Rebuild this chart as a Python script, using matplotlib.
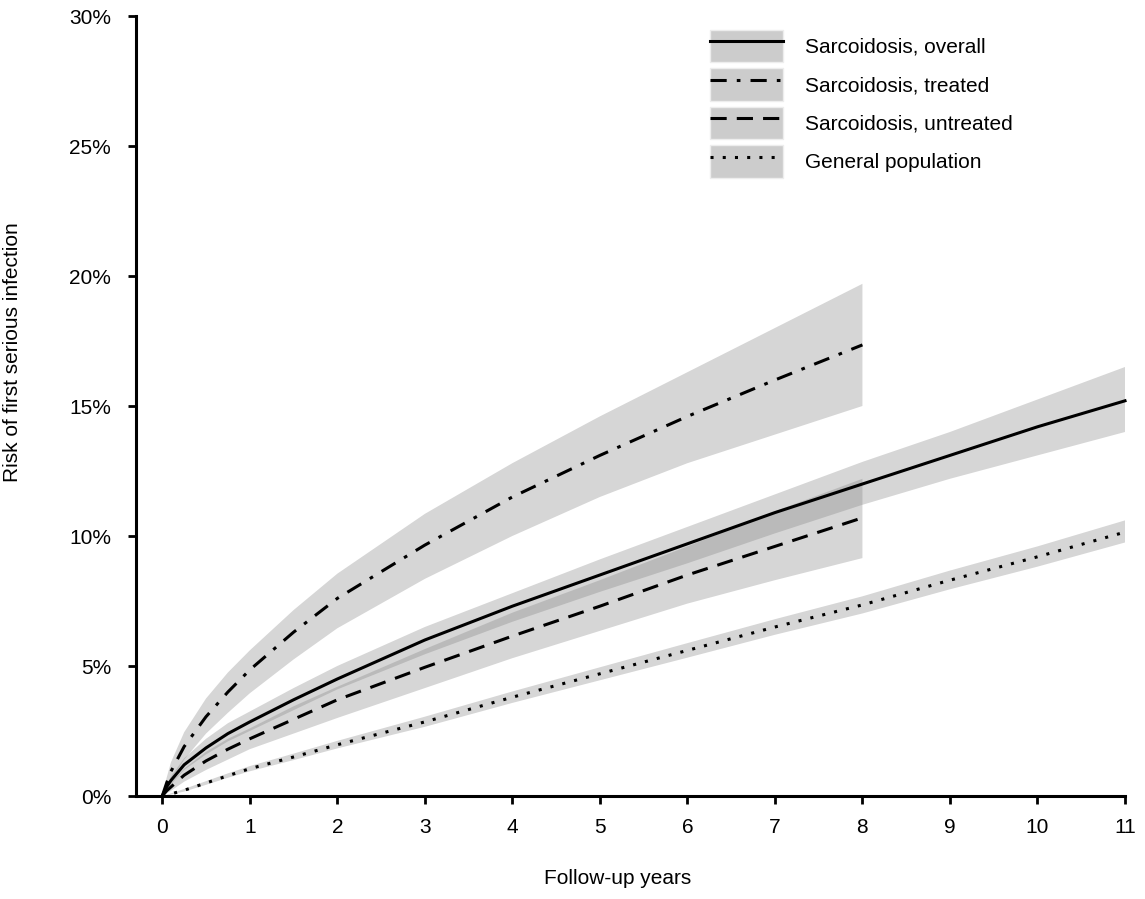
import matplotlib
matplotlib.use("Agg")
import matplotlib.pyplot as plt
from matplotlib.patches import Patch
from matplotlib.lines import Line2D

plt.rcParams['font.family'] = ['Liberation Sans', 'DejaVu Sans']

# follow-up years
x_full = [0, 0.05, 0.1, 0.25, 0.5, 0.75, 1, 1.5, 2, 3, 4, 5, 6, 7, 8, 9, 10, 11]
x_sub = [0, 0.05, 0.1, 0.25, 0.5, 0.75, 1, 1.5, 2, 3, 4, 5, 6, 7, 8]

# cumulative risk (%)
overall = [0, 0.35, 0.6, 1.2, 1.85, 2.4, 2.85, 3.7, 4.5, 6.0, 7.3, 8.5, 9.7, 10.9, 12.0, 13.1, 14.2, 15.2]
overall_hi = [0, 0.45, 0.75, 1.45, 2.2, 2.8, 3.25, 4.15, 5.0, 6.5, 7.8, 9.1, 10.35, 11.6, 12.85, 14.0, 15.25, 16.5]
overall_lo = [0, 0.25, 0.45, 1.0, 1.6, 2.1, 2.5, 3.3, 4.1, 5.45, 6.7, 7.85, 8.95, 10.1, 11.2, 12.2, 13.1, 14.0]

treated = [0, 0.5, 0.95, 1.9, 3.05, 4.0, 4.85, 6.3, 7.6, 9.65, 11.5, 13.1, 14.6, 16.0, 17.35]
treated_hi = [0, 0.7, 1.3, 2.45, 3.75, 4.75, 5.6, 7.15, 8.55, 10.85, 12.8, 14.6, 16.3, 18.0, 19.7]
treated_lo = [0, 0.3, 0.6, 1.4, 2.4, 3.2, 3.95, 5.25, 6.45, 8.35, 10.0, 11.5, 12.8, 13.9, 15.0]

untreated = [0, 0.2, 0.35, 0.8, 1.35, 1.8, 2.2, 2.95, 3.7, 4.95, 6.15, 7.3, 8.5, 9.6, 10.7]
untreated_hi = [0, 0.3, 0.5, 1.05, 1.7, 2.2, 2.6, 3.45, 4.2, 5.65, 7.05, 8.3, 9.6, 10.95, 12.2]
untreated_lo = [0, 0.1, 0.2, 0.55, 1.0, 1.4, 1.8, 2.4, 3.0, 4.15, 5.3, 6.35, 7.4, 8.3, 9.15]

general = [0, 0.04, 0.08, 0.22, 0.5, 0.78, 1.05, 1.5, 1.97, 2.85, 3.8, 4.7, 5.6, 6.5, 7.35, 8.3, 9.2, 10.15]
general_hi = [0, 0.05, 0.1, 0.27, 0.57, 0.87, 1.15, 1.63, 2.12, 3.05, 4.02, 4.95, 5.88, 6.8, 7.68, 8.67, 9.6, 10.6]
general_lo = [0, 0.03, 0.06, 0.17, 0.43, 0.7, 0.95, 1.38, 1.83, 2.66, 3.58, 4.45, 5.32, 6.2, 7.02, 7.95, 8.82, 9.75]

labels = ['Sarcoidosis, overall', 'Sarcoidosis, treated',
          'Sarcoidosis, untreated', 'General population']
x_ticks = list(range(0, 12))
y_ticks = [0, 5, 10, 15, 20, 25, 30]
y_ticklabels = ['0%', '5%', '10%', '15%', '20%', '25%', '30%']

W, H = 1145, 899
fig = plt.figure(figsize=(W / 100, H / 100), dpi=100)
ax = fig.add_axes([136 / W, 1 - 796 / H, (1125 - 136) / W, (796 - 16) / H])

band = dict(facecolor='0.5', alpha=0.32, linewidth=0)
ax.fill_between(x_full, overall_lo, overall_hi, **band)
ax.fill_between(x_sub, treated_lo, treated_hi, **band)
ax.fill_between(x_sub, untreated_lo, untreated_hi, **band)
ax.fill_between(x_full, general_lo, general_hi, **band)

lw = 2.2
styles = ['-', (0, (5.3, 3.3, 1.2, 3.3)), (0, (5.3, 3.3)), (0, (1, 3))]
ax.plot(x_full, overall, color='black', lw=lw, ls=styles[0], clip_on=False)
ax.plot(x_sub, treated, color='black', lw=lw, ls=styles[1], dash_capstyle='butt')
ax.plot(x_sub, untreated, color='black', lw=lw, ls=styles[2], dash_capstyle='butt')
ax.plot(x_full, general, color='black', lw=lw, ls=styles[3], dash_capstyle='butt', clip_on=False)

ax.set_xlim(-0.3, 11)
ax.set_ylim(0, 30)
ax.set_xticks(x_ticks)
ax.set_xticklabels([str(t) for t in x_ticks])
ax.set_yticks(y_ticks)
ax.set_yticklabels(y_ticklabels)

for side in ['top', 'right']:
    ax.spines[side].set_visible(False)
for side in ['left', 'bottom']:
    ax.spines[side].set_linewidth(2.2)
ax.tick_params(axis='both', direction='out', length=6, width=2, labelsize=15, colors='black')
ax.tick_params(axis='y', pad=12)
ax.tick_params(axis='x', pad=10)

ax.set_xlabel('Follow-up years', fontsize=15)
ax.set_ylabel('Risk of first serious infection', fontsize=15)
ax.xaxis.set_label_coords(0.487, -0.094)
ax.yaxis.set_label_coords(-0.115, 0.569)

handles = []
for st in styles:
    p = Patch(facecolor='0.8', edgecolor='0.93', linewidth=1)
    ln = Line2D([], [], color='black', lw=lw, ls=st, dash_capstyle='butt')
    handles.append((p, ln))
ax.legend(handles, labels, loc='upper left', bbox_to_anchor=(710 / W, 1 - 30 / H),
          bbox_transform=fig.transFigure, frameon=False, fontsize=15,
          handlelength=3.5, handleheight=2.0, labelspacing=0.3,
          handletextpad=1.05, borderpad=0, borderaxespad=0)

fig.savefig('out.png', dpi=100)
